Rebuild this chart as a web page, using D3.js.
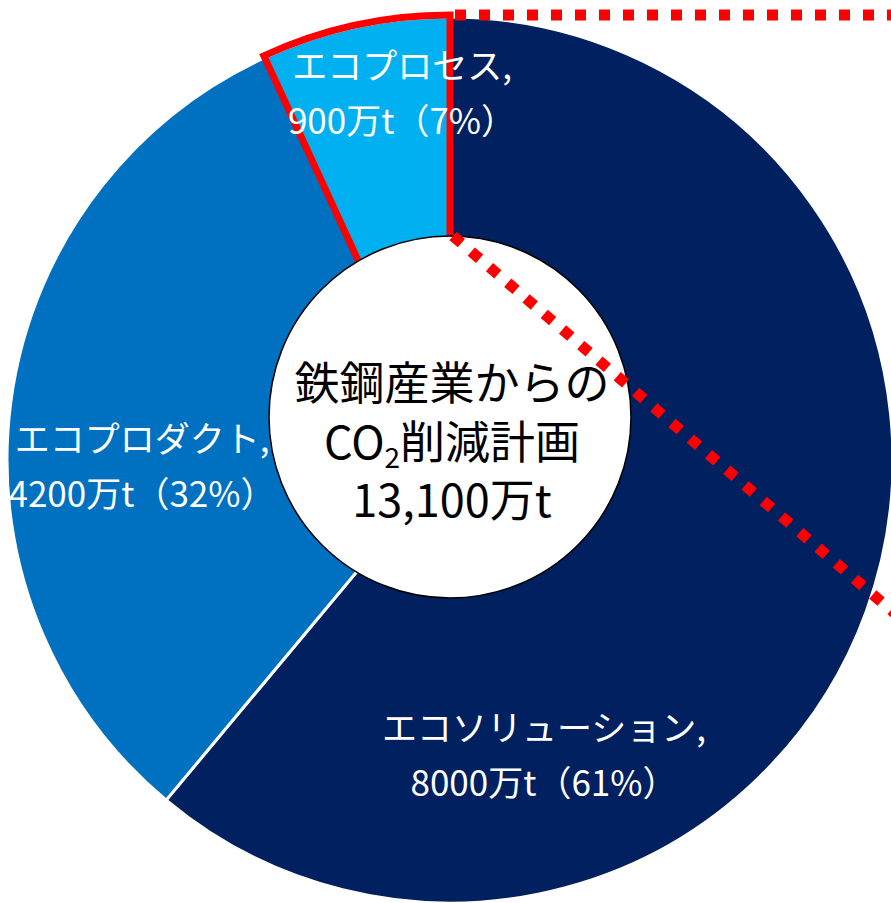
<!DOCTYPE html>
<html>
<head>
<meta charset="utf-8">
<script src="https://cdn.jsdelivr.net/npm/d3@7"></script>
<style>
  body { margin: 0; background: #fff; }
  text { font-family: "Noto Sans CJK JP", "Noto Sans", sans-serif; }
</style>
</head>
<body>
<script>
const w = 891;
const h = 903;

// data
const categories = ["エコソリューション", "エコプロダクト", "エコプロセス"];
const values = [8000, 4200, 900];
const colors = ["#002060", "#0070C0", "#00B0F0"];
const centerTitle = ["鉄鋼産業からの", "削減計画"];

// layout
const cx = 450, cy = 460, R = 443;
const holeDy = -43, holeR = 181;
const labelOffsets = [[94, 295], [-308, 6], [-48, -367]];   // label centre relative to pie centre
const labelSize = 35, lineGap = 55;

const total = d3.sum(values);
const pct = d3.format(".0%");

const svg = d3.select("body")
              .append("svg")
              .attr("width", w)
              .attr("height", h);

const g = svg.append("g")
             .attr("transform", "translate(" + cx + "," + cy + ")");

const pie = d3.pie().sort(null).value(d => d);
const arcs = pie(values);
const arc = d3.arc().innerRadius(0).outerRadius(R);

g.selectAll("path.slice")
 .data(arcs)
 .enter()
 .append("path")
 .attr("class", "slice")
 .attr("d", arc)
 .attr("fill", (d, i) => colors[i])
 .attr("stroke", "#fff")
 .attr("stroke-width", 3);

// red outline round the eco-process slice
g.append("path")
 .attr("d", d3.arc().innerRadius(0).outerRadius(R + 2)(arcs[2]))
 .attr("fill", "none")
 .attr("stroke", "#ff0000")
 .attr("stroke-width", 7)
 .attr("stroke-linejoin", "miter");

// white centre circle
g.append("circle")
 .attr("cx", 0)
 .attr("cy", holeDy)
 .attr("r", holeR)
 .attr("fill", "#fff")
 .attr("stroke", "#000")
 .attr("stroke-width", 1.5);

// slice labels
const labels = g.selectAll("text.label")
  .data(arcs)
  .enter()
  .append("text")
  .attr("class", "label")
  .attr("fill", "#fff")
  .attr("font-size", labelSize)
  .attr("text-anchor", "middle");

labels.append("tspan")
  .attr("x", (d, i) => labelOffsets[i][0])
  .attr("y", (d, i) => labelOffsets[i][1] - lineGap / 2 + labelSize * 0.38)
  .text((d, i) => categories[i] + ",");

labels.append("tspan")
  .attr("x", (d, i) => labelOffsets[i][0])
  .attr("y", (d, i) => labelOffsets[i][1] + lineGap / 2 + labelSize * 0.38)
  .text(d => d.value + "万t（" + pct(d.value / total) + "）");

// centre text
const ct = g.append("g").attr("transform", "translate(2," + (-18) + ")");
const cs = 45;
ct.append("text")
  .attr("text-anchor", "middle")
  .attr("font-size", cs)
  .attr("y", -59 + cs * 0.38)
  .text(centerTitle[0]);

const t2 = ct.append("text")
  .attr("text-anchor", "middle")
  .attr("font-size", cs)
  .attr("y", cs * 0.38);
t2.append("tspan").text("CO");
t2.append("tspan").attr("font-size", 28).attr("dy", 9).text("2");
t2.append("tspan").attr("dy", -9).text(centerTitle[1]);

ct.append("text")
  .attr("text-anchor", "middle")
  .attr("font-size", cs)
  .attr("y", 58 + cs * 0.38)
  .text(d3.format(",")(total) + "万t");

// red dotted callout lines
const dots = svg.append("g")
  .attr("stroke", "#ff0000")
  .attr("stroke-width", 11)
  .attr("stroke-dasharray", "11 13")
  .attr("fill", "none");

dots.append("line")
  .attr("x1", cx + 5).attr("y1", cy - R - 2)
  .attr("x2", w).attr("y2", cy - R - 2);

dots.append("line")
  .attr("x1", 453).attr("y1", 236)
  .attr("x2", 898).attr("y2", 616);
</script>
</body>
</html>
